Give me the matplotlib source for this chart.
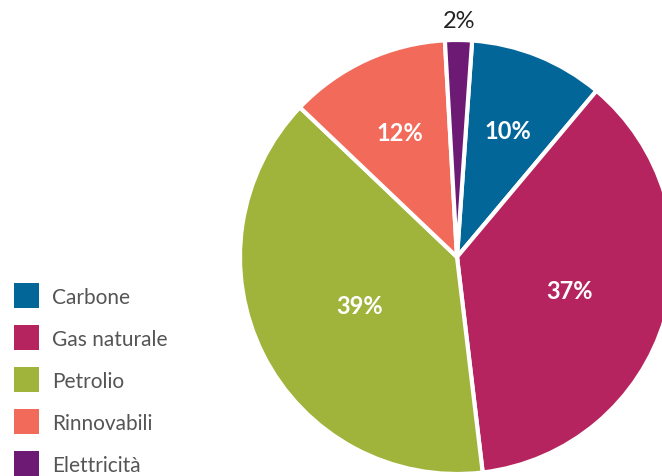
import numpy as np
import matplotlib.pyplot as plt
from matplotlib.patches import Rectangle

plt.rcParams['font.family'] = ['Lato', 'DejaVu Sans']

# quote per fonte energetica
fonti = ['Carbone', 'Gas naturale', 'Petrolio', 'Rinnovabili', 'Elettricità']
quote = [10, 37, 39, 12, 2]
colori = ['#036699', '#b5245e', '#a0b33a', '#f26a59', '#6c1a74']

W, H = 662, 477
fig = plt.figure(figsize=(W / 100, H / 100), dpi=100)
# asse del grafico a torta: centro (457, 258) px, raggio 217 px
ax = fig.add_axes([240 / W, 2 / H, 434 / W, 434 / H])
wedges, _ = ax.pie(quote, colors=colori, startangle=86, counterclock=False,
                   radius=1, wedgeprops={'linewidth': 3, 'edgecolor': 'white'})
ax.set_xlim(-1, 1)
ax.set_ylim(-1, 1)
ax.set_aspect('equal')
ax.axis('off')

# etichette percentuali: dentro le fette, fuori per quella piccola
dist = [0.63, 0.54, 0.5, 0.63, 1.09]
for w, q, d in zip(wedges, quote, dist):
    ang = np.deg2rad((w.theta1 + w.theta2) / 2)
    x, y = d * np.cos(ang), d * np.sin(ang)
    if d > 1:
        ax.text(x, y, f'{q}%', ha='center', va='center', fontsize=17,
                color='#222222', clip_on=False)
    else:
        ax.text(x, y, f'{q}%', ha='center', va='center', fontsize=17,
                color='white', fontweight='bold')

# legenda disegnata a mano: quadratini 25 px, righe ogni 42 px
for i, (nome, c) in enumerate(zip(fonti, colori)):
    yc = 296 + i * 42
    fig.patches.append(Rectangle((14 / W, 1 - (yc + 12.5) / H), 25 / W, 25 / H,
                                 facecolor=c, edgecolor='none',
                                 transform=fig.transFigure, figure=fig))
    fig.text(52 / W, 1 - yc / H, nome, ha='left', va='center_baseline',
             fontsize=15, color='#555555')

fig.savefig('out.png', dpi=100)
